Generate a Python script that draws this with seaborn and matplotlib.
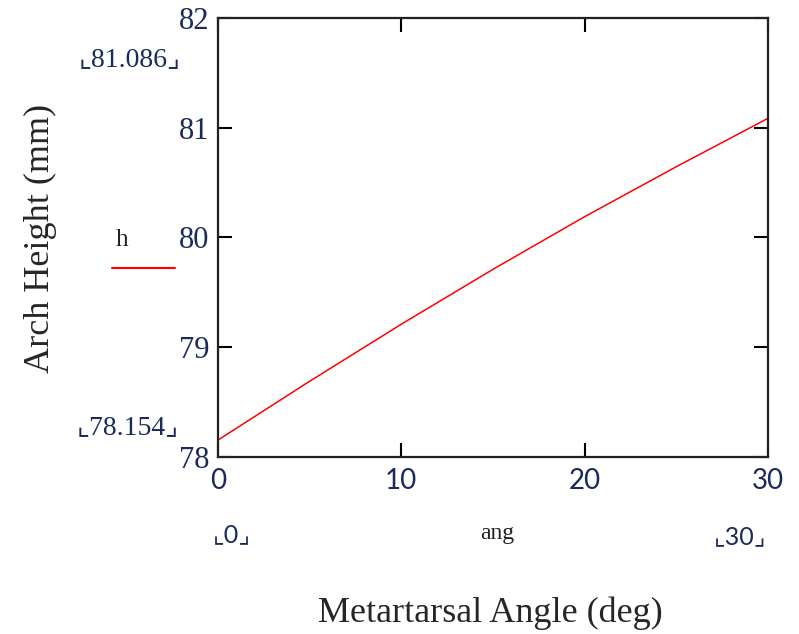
#!/usr/bin/env python3

# Arch height vs metatarsal angle, Mathcad-style plot.

import matplotlib

matplotlib.use("Agg")
import matplotlib.pyplot as plt
import pandas
import seaborn as sns

sns.set_theme(style="white")
plt.rcParams["font.family"] = ["Liberation Serif", "DejaVu Sans"]

# values
ang = [0, 5, 10, 15, 20, 25, 30]
h = [78.154, 78.69, 79.21, 79.71, 80.19, 80.645, 81.086]
x_ticks = [0, 10, 20, 30]
y_ticks = [78, 79, 80, 81, 82]
h_min_label = "78.154"
h_max_label = "81.086"

df = pandas.DataFrame({"ang": ang, "h": h})

fig = plt.figure(figsize=(7.99, 6.34), dpi=100)
ax = fig.add_axes([0.2728, 0.2792, 0.6884, 0.6924])

sns.lineplot(data=df, x="ang", y="h", color="#ff0000", linewidth=1.1, ax=ax)

ax.set_xlim(0, 30)
ax.set_ylim(78, 82)
ax.set_xticks(x_ticks)
ax.set_yticks(y_ticks)
ax.set_xticklabels([str(t) for t in x_ticks], family="Lato", fontsize=20,
                   color="#1a2a5a")
ax.set_yticklabels([str(t) for t in y_ticks], fontsize=22, color="#1a2a5a")
ax.tick_params(direction="in", length=10, width=1.5, color="black",
               top=True, right=True, bottom=True, left=True, pad=6)
ax.tick_params(axis="x", pad=8)
for s in ax.spines.values():
    s.set_color("#222222")
    s.set_linewidth(1.6)
ax.set_xlabel("")
ax.set_ylabel("")
ax.grid(False)

# Mathcad-style labels around the plot
fig.text(40 / 799, 1 - 238 / 634, "Arch Height (mm)", rotation=90,
         ha="center", va="center", fontsize=26)
fig.text(490 / 799, 1 - 613 / 634, "Metartarsal Angle (deg)",
         ha="center", va="center", fontsize=26)
fig.text(130 / 799, 1 - 60 / 634, "⌞" + h_max_label + "⌟",
         ha="center", va="center", fontsize=20, color="#1a2a5a")
fig.text(128 / 799, 1 - 428 / 634, "⌞" + h_min_label + "⌟",
         ha="center", va="center", fontsize=20, color="#1a2a5a")
fig.text(232 / 799, 1 - 535 / 634, "⌞0⌟", ha="center", va="center",
         family=["Lato", "DejaVu Sans"], fontsize=18, color="#1a2a5a")
fig.text(740 / 799, 1 - 537 / 634, "⌞30⌟", ha="center", va="center",
         family=["Lato", "DejaVu Sans"], fontsize=18, color="#1a2a5a")
fig.text(497 / 799, 1 - 533 / 634, "ang", ha="center", va="center",
         fontsize=17, color="#222222")
fig.text(122 / 799, 1 - 240 / 634, "h", ha="center", va="center",
         fontsize=18, color="#222222")
fig.add_artist(plt.Line2D([112 / 799, 175 / 799], [1 - 268 / 634, 1 - 268 / 634],
                          color="#ff0000", linewidth=1.5))

fig.savefig("out.png", dpi=100)
